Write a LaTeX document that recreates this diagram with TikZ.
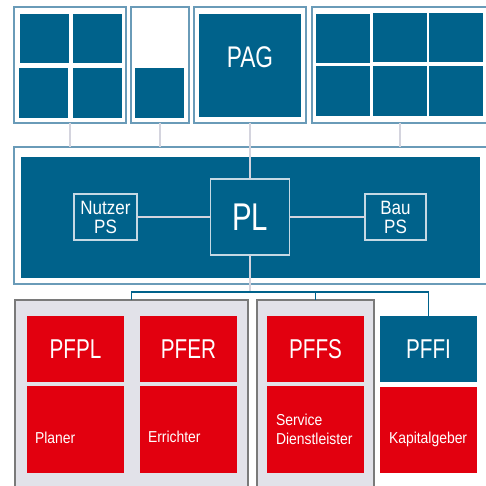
\documentclass[tikz,border=0pt]{standalone}
\usepackage{fontspec}
\setmainfont{Liberation Sans}[FakeStretch=0.88]
\newfontfamily\condfont{Liberation Sans}[FakeStretch=0.76]
\definecolor{pbblue}{HTML}{00628B}
\definecolor{pbred}{HTML}{E2000F}
\definecolor{framec}{HTML}{6A9BB8}
\definecolor{grayfill}{HTML}{E2E2E9}
\definecolor{grayedge}{HTML}{7A7A7A}
\definecolor{wirec}{HTML}{D4D4DE}
\definecolor{inedge}{HTML}{C5D9E4}
\newlength\pxu
\setlength\pxu{0.02cm}
\tikzset{
  sz/.style 2 args={minimum width=#1\pxu, minimum height=#2\pxu},
  frame/.style={draw=framec, line width=0.7pt, fill=white},
  tile/.style={fill=pbblue},
  bluebox/.style={fill=pbblue, text=white},
  inbox/.style={draw=inedge, line width=0.6pt, fill=pbblue, text=white},
  redbox/.style={fill=pbred, text=white},
  groupbox/.style={draw=grayedge, line width=1.5pt, fill=grayfill},
  wire/.style={draw=wirec, line width=1.1pt},
  busline/.style={draw=pbblue, line width=0.9pt},
  bigtxt/.style={font=\condfont\fontsize{15.5}{18}\selectfont},
  smalltxt/.style={text=white, font=\fontsize{9}{10.8}\selectfont, anchor=base west}
}
\begin{document}
\begin{tikzpicture}[x=0.02cm, y=-0.02cm, inner sep=0pt, outer sep=0pt]
  \useasboundingbox (0,0) rectangle (486,486);

  % top row
  \node[frame, sz={112}{116}] (ta) at (70,65) {};
  \node[frame, sz={58}{116}] (tb) at (160,65) {};
  \node[frame, sz={112}{116}] (tc) at (250,65) {};
  \node[frame, sz={176}{116}] (td) at (400,65) {};
  \fill[tile] (20,14) rectangle (69,63);
  \fill[tile] (73,14) rectangle (122,63);
  \fill[tile] (19,68) rectangle (68,118);
  \fill[tile] (73,68) rectangle (122,118);
  \fill[tile] (135,68) rectangle (184,118);
  \fill[tile] (316,14) rectangle (370,63);
  \fill[tile] (373,13) rectangle (427,62);
  \fill[tile] (429,13) rectangle (483,62);
  \fill[tile] (316,66) rectangle (370,116);
  \fill[tile] (373,66) rectangle (427,116);
  \fill[tile] (429,66) rectangle (483,116);
  \node[bluebox, sz={102}{103}, font=\condfont\fontsize{17}{20}\selectfont,
        text height=22\pxu, text depth=18\pxu] (pag) at (250,65.5) {PAG};

  % middle
  \node[frame, sz={478}{137}] (mo) at (253,215.5) {};
  \node[fill=pbblue, sz={459}{121}] (mi) at (250.5,217.5) {};
  \node[inbox, sz={79}{76}, font=\condfont\fontsize{22}{26}\selectfont] (pl) at (250,217) {PL};
  \node[inbox, sz={63}{46}, align=center, font=\fontsize{11}{10.8}\selectfont] (nps) at (105.5,217) {Nutzer\\PS};
  \node[inbox, sz={61}{46}, align=center, font=\fontsize{11}{10.8}\selectfont] (bps) at (395.5,217) {Bau\\PS};

  % bottom groups
  \node[groupbox, sz={233}{200}] (g1) at (131.5,400) {};
  \node[groupbox, sz={117}{200}] (g2) at (315.5,400) {};
  \node[redbox, bigtxt, sz={97}{66}] (pfpl) at (75.5,349) {PFPL};
  \node[redbox, sz={97}{87}] (pfplb) at (75.5,429.5) {};
  \node[redbox, bigtxt, sz={97}{66}] (pfer) at (188.5,349) {PFER};
  \node[redbox, sz={97}{87}] (pferb) at (188.5,429.5) {};
  \node[redbox, bigtxt, sz={97}{66}] (pffs) at (315.5,349) {PFFS};
  \node[redbox, sz={97}{87}] (pffsb) at (315.5,429.5) {};
  \node[bluebox, bigtxt, sz={97}{66}] (pffi) at (428.5,349) {PFFI};
  \node[redbox, sz={97}{86}] (pffib) at (428.5,430) {};
  \node[smalltxt] (planer) at (35,443) {Planer};
  \node[smalltxt] (errichter) at (148,442) {Errichter};
  \node[smalltxt] (service) at (276,425) {Service};
  \node[smalltxt] (dienst) at (276,444) {Dienstleister};
  \node[smalltxt] (kapital) at (389,443) {Kapitalgeber};

  % connectors
  \coordinate (bus) at (250,292);
  \draw[wire] (ta.south) -- (ta.south |- mo.north);
  \draw[wire] (tb.south) -- (tb.south |- mo.north);
  \draw[wire] (td.south) -- (td.south |- mo.north);
  \draw[wire] (tc.south) -- (pl.north);
  \draw[wire] (nps) -- (pl);
  \draw[wire] (pl) -- (bps);
  \draw[wire] (pl.south) -- (bus);
  \draw[busline] (g1.north) -- (g1.north |- bus) -- (pffi.north |- bus) -- (pffi.north);
  \draw[busline] (g2.north) -- (g2.north |- bus);
\end{tikzpicture}
\end{document}
